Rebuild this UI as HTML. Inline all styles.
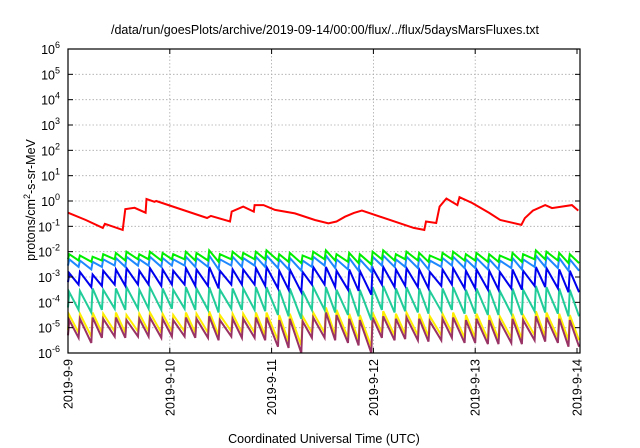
<!DOCTYPE html>
<html><head><meta charset="utf-8">
<style>
body{margin:0;background:#fff;}
svg{display:block;font-family:"Liberation Sans",sans-serif;}
</style></head>
<body>
<svg id="chart" width="640" height="448" xmlns="http://www.w3.org/2000/svg">
<rect width="640" height="448" fill="#fff"/>
<text x="325" y="34" font-size="12.5" text-anchor="middle" fill="#000">/data/run/goesPlots/archive/2019-09-14/00:00/flux/../flux/5daysMarsFluxes.txt</text>
<text x="324" y="443" font-size="12.5" text-anchor="middle" fill="#000">Coordinated Universal Time (UTC)</text>
<text transform="translate(35,200) rotate(-90)" font-size="12.5" text-anchor="middle" fill="#000">protons/cm<tspan dy="-5" font-size="9">2</tspan><tspan dy="5">-s-sr-MeV</tspan></text>
<g id="grid"></g><g id="series"></g><g id="axes"></g>
</svg>
<script>
const dayLabels=["2019-9-9","2019-9-10","2019-9-11","2019-9-12","2019-9-13","2019-9-14"];
const decades=[-6,-5,-4,-3,-2,-1,0,1,2,3,4,5,6];
const redHours=[0,4.2,8.2,8.7,12.9,13.5,15.7,18.3,18.5,20.4,20.8,32.8,33.7,38.2,38.6,41.3,43.8,44.0,46.1,48.8,53.5,58.2,61.4,63.3,65.3,67.4,69.3,69.3,81.5,84.0,84.4,86.8,87.6,89.2,91.8,92.3,95.3,99.3,101.9,106.9,107.7,109.6,112.5,114.1,118.8,120.3];
const redVals=[-0.46,-0.75,-1.06,-0.9,-1.14,-0.32,-0.27,-0.46,0.08,-0.03,0.0,-0.67,-0.59,-0.81,-0.42,-0.22,-0.42,-0.16,-0.16,-0.35,-0.49,-0.75,-0.88,-0.81,-0.62,-0.47,-0.38,-0.38,-1.06,-1.14,-0.81,-0.87,-0.22,0.1,-0.16,0.15,-0.08,-0.47,-0.75,-0.94,-0.68,-0.38,-0.16,-0.28,-0.16,-0.38];
const toothHours=[0,2.5,5.5,8,11,13.5,16.5,19,22,24.5,27.5,30,33,35.5,38.5,41,44,46.5,49.5,52,55,57.5,60.5,63,66,68.5,71.5,74,77,79.5,82.5,85,88,90.5,93.5,96,99,101.5,104.5,107,110,112.5,115.5,118];
const greenPeak=[-2.1,-2.15,-2.2,-2.1,-2.05,-2.0,-2.1,-2.0,-2.05,-2.1,-2.0,-2.05,-1.95,-2.1,-2.0,-2.05,-2.0,-1.95,-2.1,-2.05,-2.15,-2.0,-1.95,-2.1,-2.05,-2.1,-2.0,-1.95,-2.1,-2.0,-2.05,-2.15,-2.05,-2.0,-2.1,-2.05,-2.1,-2.15,-2.05,-2.1,-1.95,-2.0,-2.05,-2.1];
const greenTrough=[-2.3,-2.35,-2.4,-2.35,-2.3,-2.35,-2.3,-2.3,-2.35,-2.3,-2.3,-2.35,-2.35,-2.4,-2.3,-2.3,-2.3,-2.3,-2.35,-2.4,-2.45,-2.3,-2.3,-2.35,-2.4,-2.45,-2.5,-2.3,-2.35,-2.3,-2.35,-2.4,-2.35,-2.3,-2.35,-2.35,-2.4,-2.4,-2.35,-2.4,-2.3,-2.3,-2.35,-2.45];
const lblPeak=[-2.3,-2.35,-2.4,-2.3,-2.25,-2.2,-2.3,-2.2,-2.25,-2.3,-2.2,-2.25,-2.15,-2.3,-2.2,-2.25,-2.2,-2.15,-2.3,-2.25,-2.35,-2.2,-2.15,-2.3,-2.25,-2.3,-2.2,-2.15,-2.3,-2.2,-2.25,-2.35,-2.25,-2.2,-2.3,-2.25,-2.3,-2.35,-2.25,-2.3,-2.15,-2.2,-2.25,-2.3];
const lblTrough=[-2.55,-2.6,-2.7,-2.6,-2.55,-2.6,-2.55,-2.55,-2.6,-2.55,-2.55,-2.6,-2.6,-2.7,-2.55,-2.6,-2.55,-2.6,-2.65,-2.7,-2.75,-2.6,-2.55,-2.65,-2.7,-2.75,-2.8,-2.55,-2.6,-2.6,-2.65,-2.7,-2.6,-2.55,-2.65,-2.65,-2.7,-2.7,-2.65,-2.7,-2.6,-2.6,-2.65,-2.75];
const bluePeak=[-2.85,-2.8,-2.9,-2.75,-2.7,-2.65,-2.75,-2.65,-2.7,-2.75,-2.65,-2.7,-2.6,-2.75,-2.7,-2.7,-2.65,-2.6,-2.75,-2.7,-2.8,-2.6,-2.6,-2.75,-2.7,-2.75,-2.65,-2.6,-2.7,-2.65,-2.7,-2.8,-2.7,-2.65,-2.75,-2.7,-2.75,-2.8,-2.7,-2.75,-2.6,-2.65,-2.7,-2.75];
const blueTrough=[-3.2,-3.3,-3.4,-3.35,-3.3,-3.35,-3.3,-3.3,-3.35,-3.3,-3.3,-3.35,-3.35,-3.45,-3.3,-3.3,-3.3,-3.35,-3.45,-3.5,-3.6,-3.3,-3.3,-3.4,-3.5,-3.55,-3.7,-3.3,-3.4,-3.35,-3.4,-3.45,-3.35,-3.3,-3.45,-3.45,-3.5,-3.5,-3.45,-3.5,-3.35,-3.4,-3.45,-3.6];
const tealPeak=[-3.6,-3.55,-3.45,-3.5,-3.45,-3.4,-3.5,-3.4,-3.45,-3.5,-3.4,-3.45,-3.4,-3.5,-3.45,-3.45,-3.4,-3.4,-3.5,-3.45,-3.55,-3.4,-3.4,-3.5,-3.45,-3.5,-3.4,-3.35,-3.45,-3.4,-3.45,-3.55,-3.45,-3.4,-3.5,-3.45,-3.5,-3.55,-3.45,-3.5,-3.35,-3.4,-3.45,-3.5];
const tealTrough=[-4.2,-4.3,-4.4,-4.3,-4.25,-4.3,-4.25,-4.25,-4.3,-4.25,-4.25,-4.3,-4.3,-4.4,-4.25,-4.3,-4.3,-4.35,-4.5,-4.55,-4.65,-4.3,-4.3,-4.4,-4.5,-4.55,-4.7,-4.3,-4.4,-4.35,-4.4,-4.45,-4.35,-4.3,-4.45,-4.45,-4.5,-4.5,-4.45,-4.5,-4.35,-4.4,-4.45,-4.55];
const yellowPeak=[-4.5,-4.45,-4.4,-4.45,-4.4,-4.5,-4.45,-4.4,-4.45,-4.5,-4.4,-4.45,-4.35,-4.5,-4.45,-4.45,-4.4,-4.4,-4.5,-4.45,-4.55,-4.4,-4.2,-4.3,-4.45,-4.5,-4.4,-4.35,-4.45,-4.4,-4.45,-4.55,-4.45,-4.4,-4.5,-4.45,-4.5,-4.55,-4.45,-4.5,-4.35,-4.4,-4.45,-4.5];
const yellowTrough=[-5.1,-5.2,-5.35,-5.2,-5.15,-5.2,-5.15,-5.15,-5.2,-5.15,-5.15,-5.2,-5.2,-5.3,-5.15,-5.2,-5.2,-5.3,-5.5,-5.55,-5.7,-5.2,-5.2,-5.3,-5.4,-5.5,-5.75,-5.2,-5.3,-5.25,-5.3,-5.35,-5.3,-5.2,-5.4,-5.4,-5.45,-5.45,-5.4,-5.45,-5.3,-5.35,-5.4,-5.5];
const purplePeak=[-4.7,-4.65,-4.6,-4.65,-4.6,-4.7,-4.65,-4.6,-4.65,-4.7,-4.6,-4.65,-4.55,-4.7,-4.65,-4.65,-4.6,-4.6,-4.7,-4.65,-4.75,-4.6,-4.4,-4.5,-4.65,-4.7,-4.6,-4.55,-4.65,-4.6,-4.65,-4.75,-4.65,-4.6,-4.7,-4.65,-4.7,-4.75,-4.65,-4.7,-4.55,-4.6,-4.65,-4.7];
const purpleTrough=[-5.3,-5.4,-5.6,-5.4,-5.35,-5.4,-5.35,-5.35,-5.4,-5.35,-5.35,-5.4,-5.4,-5.5,-5.35,-5.4,-5.4,-5.5,-5.75,-5.8,-6.0,-5.4,-5.4,-5.5,-5.6,-5.7,-6.0,-5.4,-5.5,-5.45,-5.5,-5.55,-5.5,-5.4,-5.6,-5.6,-5.65,-5.65,-5.6,-5.65,-5.5,-5.55,-5.6,-5.75];

const NS="http://www.w3.org/2000/svg";
const L=68,R=580,T=49,B=353;
const xScale=h=>L+(h/120)*(577-L);
const yScale=v=>T+(6-v)/12*(B-T);
const grid=document.getElementById('grid'),axes=document.getElementById('axes'),ser=document.getElementById('series');
function mk(tag,attrs,parent){const e=document.createElementNS(NS,tag);for(const k in attrs)e.setAttribute(k,attrs[k]);parent.appendChild(e);return e;}
decades.forEach(d=>{
  const y=yScale(d);
  if(d>-6&&d<6){const g=mk('line',{x1:L,x2:R,y1:y,y2:y,stroke:'#aaa','stroke-width':0.8,'stroke-dasharray':'1.5,2'},grid);
  
  }
  const t=mk('text',{x:L-8,y:y+5,'font-size':12.5,'text-anchor':'end'},axes);
  
  
  t.textContent='10';
  const s=mk('tspan',{dy:-6,'font-size':9},t);s.textContent=String(d);
  mk('line',{x1:L,x2:L+5,y1:y,y2:y,stroke:'#000'},axes);
  mk('line',{x1:R,x2:R-5,y1:y,y2:y,stroke:'#000'},axes);
});
dayLabels.forEach((lab,i)=>{
  const x=xScale(i*24);
  if(i>0&&i<5){const g=mk('line',{x1:x,x2:x,y1:T,y2:B,stroke:'#aaa','stroke-width':0.8,'stroke-dasharray':'1.5,2'},grid);
  
  }
  mk('line',{x1:x,x2:x,y1:B,y2:B-5,stroke:'#000'},axes);
  mk('line',{x1:x,x2:x,y1:T,y2:T+5,stroke:'#000'},axes);
  const t=mk('text',{transform:`translate(${x+4.5},${B+6}) rotate(-90)`,'font-size':12.5,'text-anchor':'end'},axes);
  
  
  t.textContent=lab;
});
const f=mk('rect',{x:L,y:T,width:R-L,height:B-T,fill:'none',stroke:'#000','stroke-width':1.2},axes);


function tooth(peak,trough){
  let pts=[];
  for(let i=0;i<toothHours.length;i++){
    pts.push([toothHours[i],trough[i]]);
    pts.push([toothHours[i]+0.3,peak[i]]);
  }
  pts.push([120.5,trough[trough.length-1]]);
  return pts;
}
const series=[
 ['purple-series','#993366',tooth(purplePeak,purpleTrough)],
 ['yellow-series','#ffee00',tooth(yellowPeak,yellowTrough)],
 ['teal-series','#22cc99',tooth(tealPeak,tealTrough)],
 ['blue-series','#0000ee',tooth(bluePeak,blueTrough)],
 ['lightblue-series','#1e88ff',tooth(lblPeak,lblTrough)],
 ['green-series','#00ee00',tooth(greenPeak,greenTrough)],
 ['red-series','#ff0000',redHours.map((h,i)=>[h,redVals[i]])]
];
// yellow drawn under purple offset: draw yellow first then purple
[series[1],series[0],series[2],series[3],series[4],series[5],series[6]].forEach(([name,col,pts])=>{
  const d=pts.map((p,i)=>(i?'L':'M')+xScale(p[0]).toFixed(1)+','+yScale(Math.max(-6,p[1])).toFixed(1)).join('');
  const p=mk('path',{d:d,fill:'none',stroke:col,'stroke-width':2,'stroke-linejoin':'miter'},ser);
  
  
});
</script>
</body></html>
